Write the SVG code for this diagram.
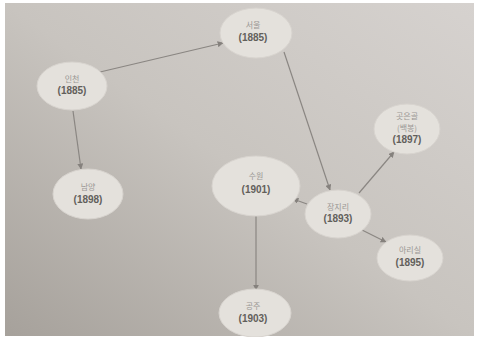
<svg xmlns="http://www.w3.org/2000/svg" width="477" height="337" viewBox="0 0 477 337">
<defs>
<linearGradient id="bg" x1="1" y1="0" x2="0" y2="1">
<stop offset="0" stop-color="#d6d2cf"/>
<stop offset="0.5" stop-color="#c8c4bf"/>
<stop offset="1" stop-color="#a6a19b"/>
</linearGradient>
<marker id="arr" viewBox="0 0 10 10" refX="9" refY="5" markerWidth="6" markerHeight="6" orient="auto" markerUnits="userSpaceOnUse">
<path d="M0,0 L10,5 L0,10 z" fill="#85817d"/>
</marker>
</defs>
<style>
.n{fill:#e4e1dc;stroke:#d8d4cf;stroke-width:1}
.nm{font-family:"Noto Sans CJK KR","Noto Sans",sans-serif;font-size:8px;fill:#9a9794;text-anchor:middle}
.yr{font-family:"Liberation Sans",Arial,sans-serif;font-size:10px;font-weight:bold;fill:#625f5b;text-anchor:middle}
.c{stroke:#8a8682;stroke-width:1.2;fill:none;marker-end:url(#arr)}
</style>
<rect x="0" y="0" width="477" height="337" fill="#ffffff"/>
<rect x="5" y="3" width="469" height="333" fill="url(#bg)"/>
<g id="connectors">
<line class="c" x1="100" y1="72" x2="223" y2="43"/>
<line class="c" x1="73" y1="111" x2="81" y2="169"/>
<line class="c" x1="284" y1="52" x2="330" y2="190"/>
<line class="c" x1="359" y1="193" x2="394" y2="152"/>
<line class="c" x1="307" y1="204" x2="293" y2="199"/>
<line class="c" x1="362" y1="230" x2="386" y2="242"/>
<line class="c" x1="256" y1="215" x2="256" y2="290"/>
</g>
<g id="node-incheon">
<ellipse class="n" cx="72" cy="86" rx="35" ry="24"/>
<text class="nm" x="72" y="82">인천</text>
<text class="yr" x="72" y="94">(1885)</text>
</g>
<g id="node-seoul">
<ellipse class="n" cx="256" cy="33" rx="36" ry="25"/>
<text class="nm" x="253" y="28">서울</text>
<text class="yr" x="253" y="41">(1885)</text>
</g>
<g id="node-namyang">
<ellipse class="n" cx="88" cy="194" rx="35" ry="25"/>
<text class="nm" x="88" y="190">남양</text>
<text class="yr" x="88" y="203">(1898)</text>
</g>
<g id="node-suwon">
<ellipse class="n" cx="256" cy="186" rx="44" ry="30"/>
<text class="nm" x="256" y="179">수원</text>
<text class="yr" x="256" y="193">(1901)</text>
</g>
<g id="node-jangjiri">
<ellipse class="n" cx="338" cy="214" rx="33" ry="24"/>
<text class="nm" x="338" y="210">장지리</text>
<text class="yr" x="338" y="222">(1893)</text>
</g>
<g id="node-goteungol">
<ellipse class="n" cx="407" cy="129" rx="33" ry="25"/>
<text class="nm" x="407" y="119">곳은골</text>
<text class="nm" x="407" y="131">(백봉)</text>
<text class="yr" x="407" y="142.5">(1897)</text>
</g>
<g id="node-arisil">
<ellipse class="n" cx="410" cy="258" rx="33" ry="23"/>
<text class="nm" x="410" y="253">아리실</text>
<text class="yr" x="410" y="266">(1895)</text>
</g>
<g id="node-gongju">
<ellipse class="n" cx="255" cy="313" rx="36" ry="24"/>
<text class="nm" x="253" y="309">공주</text>
<text class="yr" x="253" y="322">(1903)</text>
</g>
</svg>
